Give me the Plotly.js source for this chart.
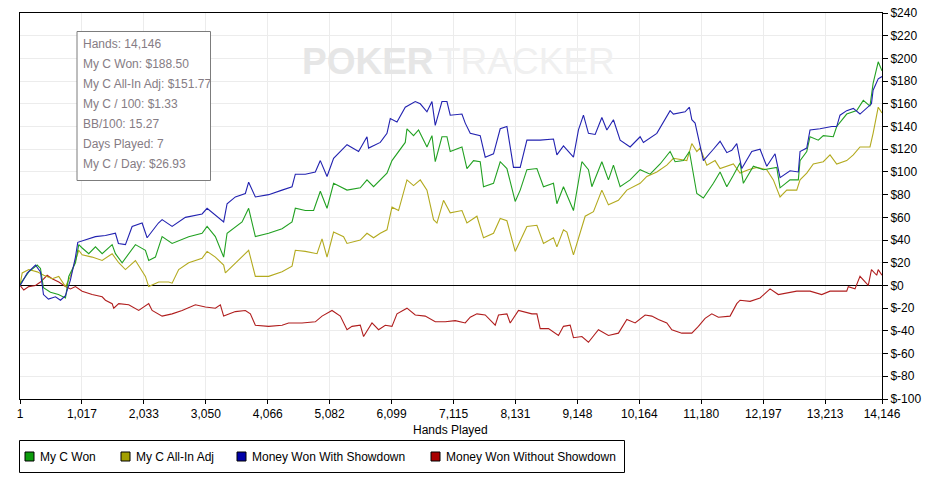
<!DOCTYPE html>
<html>
<head>
<meta charset="utf-8">
<script src="https://cdn.plot.ly/plotly-3.0.1.min.js"></script>
<style>html,body{margin:0;padding:0;background:#fff;}#chart{width:929px;height:478px;}</style>
</head>
<body>
<div id="chart"></div>
<script>
// ---------- DATA ----------
const xTickVals = [1,1017,2033,3050,4066,5082,6099,7115,8131,9148,10164,11180,12197,13213,14146];
const xTickText = ["1","1,017","2,033","3,050","4,066","5,082","6,099","7,115","8,131","9,148","10,164","11,180","12,197","13,213","14,146"];
const yTickVals = [240,220,200,180,160,140,120,100,80,60,40,20,0,-20,-40,-60,-80,-100];
const yTickText = ["$240","$220","$200","$180","$160","$140","$120","$100","$80","$60","$40","$20","$0","$-20","$-40","$-60","$-80","$-100"];

const seriesNames = ["My C Won","My C All-In Adj","Money Won With Showdown","Money Won Without Showdown"];

const handsWon = [1,26,145,283,337,386,501,632,747,801,911,965,1021,1129,1239,1349,1513,1567,1677,1785,1895,2059,2113,2223,2333,2497,2769,2989,3071,3207,3343,3399,3535,3645,3753,3863,4081,4301,4465,4519,4683,4819,4929,5039,5147,5367,5585,5695,5803,5913,6023,6105,6213,6323,6351,6459,6541,6679,6761,6815,6925,7007,7061,7253,7335,7443,7553,7607,7771,7881,7991,8127,8209,8319,8483,8591,8755,8811,8919,9083,9221,9329,9385,9549,9657,9739,9849,10013,10177,10341,10505,10669,10751,10887,10986,11051,11107,11215,11379,11489,11599,11707,11817,11871,12035,12199,12419,12473,12637,12773,12801,12911,12965,13101,13183,13347,13403,13567,13731,13839,13949,14000,14084,14146];
const myCWon = [0,3,12,18,15,-2,-6,-8,-11,8,20,36,33,28,34,28,36,28,20,28,36,31,22,25,43,37,43,46,52,43,25,46,52,56,68,43,46,50,56,68,66,66,83,68,90,84,86,93,87,93,99,110,118,126,138,132,137,122,132,109,131,131,118,122,103,110,109,87,90,109,103,74,84,102,103,87,90,72,87,66,109,102,87,109,93,106,87,93,102,98,107,118,109,110,118,99,81,77,90,100,87,97,108,90,105,102,104,86,93,93,110,118,131,128,132,131,140,151,154,163,158,178,197,189];

const handsAdj = [1,37,145,283,391,529,637,747,829,911,965,1021,1185,1349,1513,1621,1731,1895,2059,2113,2277,2441,2497,2605,2769,2989,3071,3207,3343,3371,3589,3753,3863,4081,4301,4465,4519,4683,4875,4957,5039,5147,5311,5367,5585,5695,5803,5913,6023,6105,6213,6351,6459,6569,6679,6787,6843,6951,7061,7253,7335,7499,7607,7771,7881,7991,8127,8319,8483,8591,8755,8811,8919,8975,9083,9193,9275,9411,9549,9657,9821,9959,10177,10287,10451,10615,10723,10943,11025,11107,11161,11271,11407,11489,11707,11817,11953,12091,12255,12363,12473,12583,12747,12801,12911,13019,13183,13293,13403,13567,13675,13785,13949,14000,14084,14146];
const myCAllInAdj = [0,11,14,12,9,6,8,-1,8,22,31,27,25,22,28,20,14,22,8,-1,3,3,2,14,20,24,30,25,18,11,22,31,8,8,12,17,31,30,28,41,25,47,43,37,40,46,42,46,49,69,66,93,88,93,84,58,55,75,64,66,55,61,42,46,59,57,30,52,53,37,42,34,49,47,27,46,61,65,84,71,75,84,90,96,100,106,112,110,125,118,121,106,110,103,107,99,102,104,102,93,78,84,84,93,99,107,109,115,107,110,115,122,122,134,157,152];

const handsSD = [1,26,119,255,337,386,468,583,665,747,829,911,949,1076,1239,1403,1567,1616,1731,1841,2005,2087,2272,2333,2497,2715,2989,3071,3207,3343,3399,3535,3699,3753,3863,4081,4301,4465,4519,4683,4847,4929,5039,5147,5367,5557,5695,5721,5913,6023,6077,6187,6323,6487,6569,6679,6761,6815,6925,7007,7061,7253,7307,7389,7553,7635,7771,7881,7991,8099,8209,8319,8537,8755,8811,8919,9083,9165,9247,9329,9439,9549,9631,9739,9849,10013,10177,10231,10451,10669,10723,10915,10986,11025,11079,11215,11379,11489,11599,11681,11763,11845,12009,12145,12255,12391,12473,12637,12773,12801,12911,12965,13129,13321,13403,13457,13567,13675,13785,13891,13973,14000,14084,14146];
const wonWithSD = [0,2,11,18,12,-8,-12,-10,-13,-9,5,25,38,40,43,44,46,37,36,52,55,42,55,58,52,60,63,68,62,56,72,78,81,91,78,80,84,87,98,98,100,110,96,112,124,118,131,121,126,134,147,144,157,162,160,153,162,141,162,162,150,151,143,134,132,113,116,138,140,104,104,128,128,129,115,123,113,137,150,134,133,148,137,146,128,122,131,126,134,154,151,153,157,146,143,110,120,127,117,119,125,103,118,120,105,116,95,101,100,118,121,137,138,140,140,150,154,156,151,156,160,172,182,184];

const handsNoSD = [1,63,145,255,337,447,529,637,747,829,911,1021,1185,1349,1403,1513,1539,1621,1785,1949,2113,2169,2333,2497,2661,2879,3043,3207,3289,3343,3535,3699,3781,3863,4081,4301,4409,4629,4847,4957,5121,5257,5367,5449,5585,5639,5777,5885,5995,6105,6187,6351,6487,6651,6815,6979,7143,7307,7389,7499,7635,7799,7853,7991,8045,8181,8401,8483,8537,8673,8837,8919,9029,9083,9221,9329,9493,9657,9821,9959,10095,10259,10369,10477,10615,10697,10861,11025,11133,11243,11353,11461,11653,11707,11763,11817,11981,12145,12309,12445,12747,12965,13157,13293,13567,13593,13703,13785,13921,13973,14059,14084,14146];
const wonWithoutSD = [0,-4,-1,0,3,9,6,3,-1,-3,-1,-5,-8,-10,-13,-16,-20,-16,-17,-22,-16,-22,-27,-25,-22,-17,-19,-20,-17,-27,-23,-22,-25,-35,-36,-35,-33,-33,-32,-27,-22,-27,-39,-36,-35,-45,-33,-39,-35,-36,-25,-20,-26,-27,-32,-32,-31,-33,-28,-25,-26,-35,-26,-25,-33,-22,-25,-25,-38,-38,-44,-36,-35,-46,-45,-50,-39,-44,-42,-30,-33,-26,-27,-30,-33,-39,-42,-42,-36,-29,-25,-28,-27,-21,-16,-13,-14,-11,-3,-8,-5,-5,-8,-5,-5,-1,-3,8,0,14,9,14,9];

const statLines = ["Hands: 14,146","My C Won: $188.50","My C All-In Adj: $151.77","My C / 100: $1.33","BB/100: 15.27","Days Played: 7","My C / Day: $26.93"];

const lineColors = ["#22a122","#b3aa1f","#2222b0","#b01e1e"];
const legendColors = ["#0c9c0c","#a3a000","#0000a8","#a80000"];

// ---------- LAYOUT HELPERS ----------
const W = 929, H = 478, L = 20, R = 47, T = 13, B = 79;
const PW = W - L - R, PH = H - T - B;
const px = x => (x - L) / PW;
const py = y => (H - B - y) / PH;
const FONT = "Liberation Sans, Arial, sans-serif";

const traces = [
  {x: handsNoSD, y: wonWithoutSD, color: lineColors[3]},
  {x: handsAdj, y: myCAllInAdj, color: lineColors[1]},
  {x: handsWon, y: myCWon, color: lineColors[0]},
  {x: handsSD, y: wonWithSD, color: lineColors[2]}
].map(s => ({
  type: "scatter", mode: "lines", x: s.x, y: s.y,
  line: {color: s.color, width: 1.1}, showlegend: false, hoverinfo: "skip"
}));

const shapes = [];
const annotations = [];

// stats box
shapes.push({type: "rect", xref: "paper", yref: "paper", x0: px(77), x1: px(210.5), y0: py(180.5), y1: py(31.5),
  line: {color: "#7c7c7c", width: 1}, fillcolor: "#ffffff", layer: "above"});
statLines.forEach((t, i) => annotations.push({
  xref: "paper", yref: "paper", x: px(81), y: py(43.7 + 20 * i), xanchor: "left", yanchor: "middle",
  text: t, showarrow: false, font: {family: FONT, size: 12, color: "#857c84"}
}));

// watermark
annotations.push({xref: "paper", yref: "paper", x: px(436), y: py(61), xanchor: "right", yanchor: "middle",
  text: "<b>POKER</b>", showarrow: false, font: {family: FONT, size: 37, color: "#e6e6e6"}});
annotations.push({xref: "paper", yref: "paper", x: px(436), y: py(61), xanchor: "left", yanchor: "middle",
  text: "TRACKER", showarrow: false, font: {family: FONT, size: 37, color: "#f0f0f0"}});

// axis title
annotations.push({xref: "paper", yref: "paper", x: px(450), y: py(430), xanchor: "center", yanchor: "middle",
  text: "Hands Played", showarrow: false, font: {family: FONT, size: 12, color: "#000"}});

// legend
shapes.push({type: "rect", xref: "paper", yref: "paper", x0: px(19.5), x1: px(624.5), y0: py(472.5), y1: py(440.5),
  line: {color: "#000", width: 1}, fillcolor: "rgba(0,0,0,0)"});
const legSq = [25, 121, 237, 431];
const legTx = [38, 134, 250, 444];
seriesNames.forEach((n, i) => {
  shapes.push({type: "rect", xref: "paper", yref: "paper", x0: px(legSq[i]), x1: px(legSq[i] + 9), y0: py(461), y1: py(452),
    line: {color: "#000", width: 1}, fillcolor: legendColors[i]});
  annotations.push({xref: "paper", yref: "paper", x: px(legTx[i]), y: py(456.5), xanchor: "left", yanchor: "middle",
    text: n, showarrow: false, font: {family: FONT, size: 12, color: "#000"}});
});

const layout = {
  width: W, height: H,
  margin: {l: L, r: R, t: T, b: B, pad: 0},
  paper_bgcolor: "#fff", plot_bgcolor: "#fff",
  showlegend: false, hovermode: false,
  font: {family: FONT, size: 12, color: "#000"},
  xaxis: {
    range: [1, 14146], tickmode: "array", tickvals: xTickVals, ticktext: xTickText,
    showgrid: true, gridcolor: "#ececec", gridwidth: 1, zeroline: false,
    showline: true, linecolor: "#000", linewidth: 1, mirror: true,
    ticks: "outside", ticklen: 4, tickcolor: "#000", tickwidth: 1,
    tickfont: {family: FONT, size: 12, color: "#000"}, fixedrange: true
  },
  yaxis: {
    range: [-100, 240], side: "right", tickmode: "array", tickvals: yTickVals, ticktext: yTickText,
    showgrid: true, gridcolor: "#ececec", gridwidth: 1,
    zeroline: true, zerolinecolor: "#000", zerolinewidth: 1,
    showline: true, linecolor: "#000", linewidth: 1, mirror: true,
    ticks: "outside", ticklen: 5, tickcolor: "#000", tickwidth: 1,
    tickfont: {family: FONT, size: 12, color: "#000"}, fixedrange: true
  },
  shapes: shapes,
  annotations: annotations
};

Plotly.newPlot("chart", traces, layout, {staticPlot: true, displayModeBar: false});
</script>
</body>
</html>
